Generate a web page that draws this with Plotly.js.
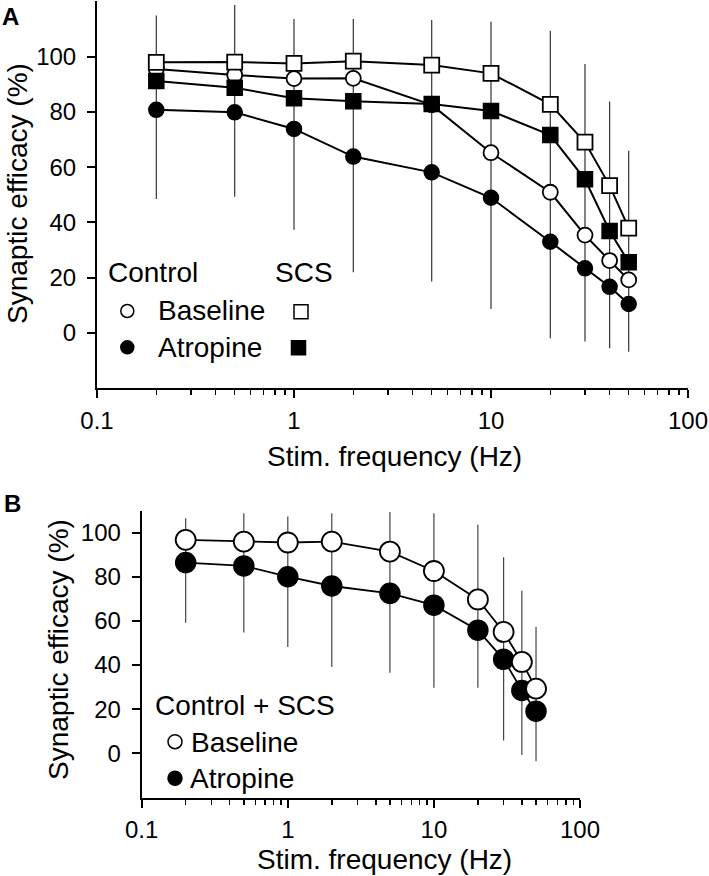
<!DOCTYPE html>
<html>
<head>
<meta charset="utf-8">
<script src="https://cdn.plot.ly/plotly-3.0.1.min.js"></script>
<style>html,body{margin:0;padding:0;background:#fff;}#chart{width:709px;height:876px;}</style>
</head>
<body>
<div id="chart"></div>
<script>
// ---------- data ----------
const freq = [0.2, 0.5, 1, 2, 5, 10, 20, 30, 40, 50];

// Panel A
const A_ctrlBaseline = [95.5, 93.3, 92.0, 92.1, 82.5, 65.2, 50.9, 35.4, 26.2, 19.2];
const A_ctrlAtropine = [80.7, 79.8, 73.8, 63.8, 58.1, 48.9, 33.0, 23.4, 16.7, 10.5];
const A_scsBaseline  = [97.9, 98.0, 97.5, 98.3, 96.9, 93.9, 82.7, 69.0, 53.3, 37.9];
const A_scsAtropine  = [91.1, 88.7, 84.9, 83.8, 82.8, 80.3, 71.6, 55.6, 36.9, 25.6];
const A_errTop       = [114.8, 118.6, 113.6, 113.6, 113.2, 112.6, 109.3, 97.3, 83.7, 65.9];
const A_errBottom    = [48.5, 49.3, 37.3, 22.0, 18.6, 8.7, -1.9, -3.1, -5.5, -6.8];

// Panel B
const B_baseline  = [96.7, 95.9, 95.5, 95.9, 91.4, 82.6, 69.7, 55.0, 41.4, 29.3];
const B_atropine  = [86.4, 84.9, 80.0, 75.8, 72.5, 67.1, 55.8, 42.6, 28.5, 19.1];
const B_errTop    = [106.5, 108.8, 107.3, 108.8, 109.3, 108.8, 103.5, 88.8, 73.6, 57.3];
const B_errBottom = [59.1, 54.7, 48.2, 39.1, 36.5, 29.7, 29.7, 5.8, -0.7, -3.6];

// Axis ticks
const xTickVals = [0.1, 1, 10, 100];
const xTickText = ['0.1', '1', '10', '100'];
const xMinorVals = [0.2,0.3,0.4,0.5,0.6,0.7,0.8,0.9,2,3,4,5,6,7,8,9,20,30,40,50,60,70,80,90];
const yTickVals = [0, 20, 40, 60, 80, 100];
const yTickText = ['0', '20', '40', '60', '80', '100'];

// ---------- layout helpers ----------
const W = 709, H = 876;
const px = x => x / W;
const py = y => 1 - y / H;
const FONT = 'Liberation Sans, Arial, Helvetica, sans-serif';

function errUp(center, top) { return center.map((c, i) => top[i] - c); }
function errDown(center, bot) { return center.map((c, i) => c - bot[i]); }

const traces = [];
// Panel A error bars (behind everything)
traces.push({
  x: freq, y: A_ctrlAtropine, xaxis: 'x', yaxis: 'y', mode: 'markers',
  marker: {size: 1, color: 'rgba(0,0,0,0)'},
  error_y: {type: 'data', symmetric: false, array: errUp(A_ctrlAtropine, A_errTop),
            arrayminus: errDown(A_ctrlAtropine, A_errBottom), width: 0, thickness: 1.2, color: '#333'},
  hoverinfo: 'skip', showlegend: false
});
const lineA = {color: '#000', width: 2};
traces.push({x: freq, y: A_ctrlAtropine, xaxis: 'x', yaxis: 'y', mode: 'lines+markers', line: lineA,
  marker: {symbol: 'circle', size: 15, color: '#000', line: {color: '#000', width: 1.5}}, showlegend: false});
traces.push({x: freq, y: A_ctrlBaseline, xaxis: 'x', yaxis: 'y', mode: 'lines+markers', line: lineA,
  marker: {symbol: 'circle', size: 15, color: '#fff', line: {color: '#000', width: 1.8}}, showlegend: false});
traces.push({x: freq, y: A_scsAtropine, xaxis: 'x', yaxis: 'y', mode: 'lines+markers', line: lineA,
  marker: {symbol: 'square', size: 15, color: '#000', line: {color: '#000', width: 1.5}}, showlegend: false});
traces.push({x: freq, y: A_scsBaseline, xaxis: 'x', yaxis: 'y', mode: 'lines+markers', line: lineA,
  marker: {symbol: 'square', size: 15, color: '#fff', line: {color: '#000', width: 1.8}}, showlegend: false});

// Panel B
traces.push({
  x: freq, y: B_atropine, xaxis: 'x2', yaxis: 'y2', mode: 'markers',
  marker: {size: 1, color: 'rgba(0,0,0,0)'},
  error_y: {type: 'data', symmetric: false, array: errUp(B_atropine, B_errTop),
            arrayminus: errDown(B_atropine, B_errBottom), width: 0, thickness: 1.2, color: '#444'},
  hoverinfo: 'skip', showlegend: false
});
const lineB = {color: '#000', width: 1.8};
traces.push({x: freq, y: B_atropine, xaxis: 'x2', yaxis: 'y2', mode: 'lines+markers', line: lineB,
  marker: {symbol: 'circle', size: 20, color: '#000', line: {color: '#000', width: 1.5}}, showlegend: false});
traces.push({x: freq, y: B_baseline, xaxis: 'x2', yaxis: 'y2', mode: 'lines+markers', line: lineB,
  marker: {symbol: 'circle', size: 20, color: '#fff', line: {color: '#000', width: 1.8}}, showlegend: false});

function xAxis(domain, anchor) {
  return {
    type: 'log', domain: domain, range: [-1, 2], anchor: anchor,
    tickmode: 'array', tickvals: xTickVals, ticktext: xTickText,
    ticks: 'outside', ticklen: 8, tickwidth: 2, tickcolor: '#000',
    showline: true, linewidth: 2, linecolor: '#000', showgrid: false, zeroline: false,
    tickfont: {family: FONT, size: 24, color: '#000'}, ticklabelstandoff: 2,
    minor: {tickmode: 'array', tickvals: xMinorVals, ticks: 'outside', ticklen: 5, tickwidth: 1.5, tickcolor: '#000', showgrid: false},
    fixedrange: true
  };
}
function yAxis(domain, range, anchor) {
  return {
    domain: domain, range: range, anchor: anchor,
    tickmode: 'array', tickvals: yTickVals, ticktext: yTickText,
    ticks: 'outside', ticklen: 8, tickwidth: 2, tickcolor: '#000',
    showline: true, linewidth: 2, linecolor: '#000', showgrid: false, zeroline: false,
    tickfont: {family: FONT, size: 24, color: '#000'}, ticklabelstandoff: 6,
    fixedrange: true
  };
}

function txt(text, x, y, opts) {
  return Object.assign({text: text, xref: 'paper', yref: 'paper', x: px(x), y: py(y),
    xanchor: 'left', yanchor: 'middle', showarrow: false,
    font: {family: FONT, size: 28, color: '#000'}}, opts || {});
}

const annotations = [
  txt('<b>A</b>', 0, 16, {font: {family: FONT, size: 24, color: '#000'}}),
  txt('Synaptic efficacy (%)', 18, 194, {xanchor: 'center', textangle: -90}),
  txt('Stim. frequency (Hz)', 394.7, 456, {xanchor: 'center'}),
  txt('Control', 106, 272),
  txt('SCS', 273, 272),
  txt('Baseline', 156, 310),
  txt('Atropine', 156, 347),

  txt('<b>B</b>', 2, 503, {font: {family: FONT, size: 24, color: '#000'}}),
  txt('Synaptic efficacy (%)', 58, 650, {xanchor: 'center', textangle: -90}),
  txt('Stim. frequency (Hz)', 384, 859, {xanchor: 'center'}),
  txt('Control + SCS', 153, 705),
  txt('Baseline', 189.5, 742),
  txt('Atropine', 188.5, 778)
];

function circ(cx, cy, d, fill) {
  return {type: 'circle', xref: 'paper', yref: 'paper',
    x0: px(cx - d / 2), x1: px(cx + d / 2), y0: py(cy + d / 2), y1: py(cy - d / 2),
    line: {color: '#000', width: 1.5}, fillcolor: fill};
}
function sq(cx, cy, s, fill) {
  return {type: 'rect', xref: 'paper', yref: 'paper',
    x0: px(cx - s / 2), x1: px(cx + s / 2), y0: py(cy + s / 2), y1: py(cy - s / 2),
    line: {color: '#000', width: 1.5}, fillcolor: fill};
}
const shapes = [
  circ(127.3, 311, 13, '#fff'),
  circ(127.3, 347.3, 13, '#000'),
  sq(301, 311.7, 14, '#fff'),
  sq(298.5, 347.7, 14, '#000'),
  circ(175, 741.7, 14, '#fff'),
  circ(175, 778.3, 14, '#000')
];

const layout = {
  width: W, height: H,
  margin: {l: 0, r: 0, t: 0, b: 0, pad: 0},
  paper_bgcolor: '#fff', plot_bgcolor: '#fff',
  showlegend: false,
  font: {family: FONT, color: '#000'},
  xaxis: xAxis([px(97), px(688)], 'y'),
  yaxis: yAxis([py(388.3), py(1.2)], [-20, 120], 'x'),
  xaxis2: xAxis([px(141.7), px(580)], 'y2'),
  yaxis2: yAxis([py(797.5), py(510.5)], [-20, 110], 'x2'),
  annotations: annotations,
  shapes: shapes
};

Plotly.newPlot('chart', traces, layout, {staticPlot: true, displayModeBar: false});
</script>
</body>
</html>
